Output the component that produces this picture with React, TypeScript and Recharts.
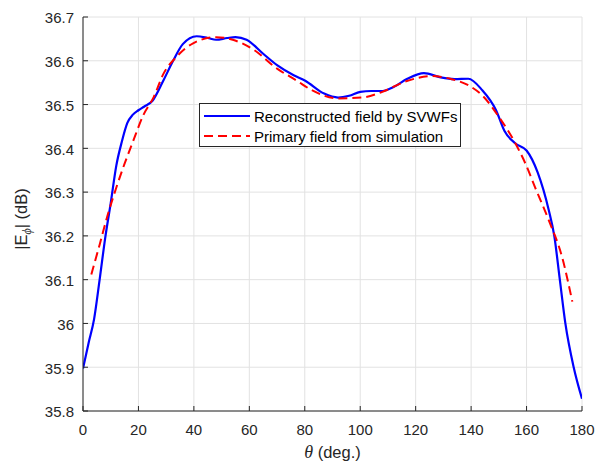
import { LineChart, Line, XAxis, YAxis, CartesianGrid, Legend, Label } from 'recharts';

// theta ticks (deg.) and |E_phi| ticks (dB)
const thetaTicks = [0, 20, 40, 60, 80, 100, 120, 140, 160, 180];
const dbTicks = [35.8, 35.9, 36, 36.1, 36.2, 36.3, 36.4, 36.5, 36.6, 36.7];

// reconstructed field by SVWFs
const thetaRec = [
  0, 2, 4, 6, 8, 10, 12, 14, 16, 18, 20, 22, 25, 29, 32.5, 36, 41, 45, 48, 52, 55, 59, 65, 70, 76,
  80, 87, 92, 96, 100, 104, 108, 112, 117, 123, 129, 134, 139, 144, 149, 152, 156, 160, 164, 168,
  170, 172, 174, 177, 180,
];
const fieldRec = [
  35.897, 35.955, 36.01, 36.1, 36.195, 36.275, 36.36, 36.415, 36.458, 36.477, 36.487, 36.495,
  36.508, 36.555, 36.6, 36.638, 36.656, 36.652, 36.648, 36.652, 36.654, 36.648, 36.616, 36.59,
  36.567, 36.555, 36.525, 36.516, 36.52, 36.529, 36.531, 36.531, 36.54, 36.559, 36.572, 36.562,
  36.558, 36.559, 36.533, 36.487, 36.44, 36.411, 36.395, 36.345, 36.259, 36.2, 36.1, 36.0, 35.9,
  35.828,
];

// primary field from simulation
const thetaSim = [
  3, 6, 9, 12, 15, 18, 21.7, 25.5, 29, 33.7, 39.7, 48, 54, 61.4, 70, 77, 82.5, 92, 100.6, 108,
  116, 126, 133, 139, 144, 150, 156, 159.6, 163, 168, 172.8, 176.5,
];
const fieldSim = [
  36.112, 36.18, 36.25, 36.31, 36.365, 36.415, 36.475, 36.517, 36.57, 36.609, 36.64, 36.654,
  36.648, 36.626, 36.582, 36.555, 36.533, 36.514, 36.516, 36.529, 36.552, 36.565, 36.558, 36.544,
  36.521, 36.472, 36.411, 36.365, 36.312, 36.236, 36.152, 36.05,
];

const seriesNames = ['Reconstructed field by SVWFs', 'Primary field from simulation'];

const recData = thetaRec.map((t, i) => ({ theta: t, value: fieldRec[i] }));
const simData = thetaSim.map((t, i) => ({ theta: t, value: fieldSim[i] }));

const FONT = '"Liberation Sans", Arial, Helvetica, sans-serif';
const TXT = '#262626';

const fmtDb = (v: number) => String(parseFloat(v.toFixed(1)));

const LegendBox = ({ payload }: any) => {
  const items = [...(payload || [])].sort(
    (a: any, b: any) => seriesNames.indexOf(a.value) - seriesNames.indexOf(b.value)
  );
  return (
    <div
      style={{
        border: '1px solid #262626',
        background: '#fff',
        width: 260,
        height: 42,
        boxSizing: 'content-box',
        fontFamily: FONT,
        fontSize: 15,
        color: '#000',
      }}
    >
      {items.map((p: any, i: number) => (
        <div key={i} style={{ display: 'flex', alignItems: 'center', height: 20, marginTop: i === 0 ? 2 : 0 }}>
          <svg width={54} height={20}>
            <line
              x1={4}
              x2={50}
              y1={10}
              y2={10}
              stroke={p.color}
              strokeWidth={2}
              strokeDasharray={p.payload.strokeDasharray}
            />
          </svg>
          <span>{p.value}</span>
        </div>
      ))}
    </div>
  );
};

const YLabel = ({ viewBox }: any) => {
  const cx = viewBox.x + 27;
  const cy = viewBox.y + viewBox.height / 2 + 5;
  return (
    <text
      transform={`translate(${cx},${cy}) rotate(-90)`}
      textAnchor="middle"
      fontFamily={FONT}
      fontSize={16.5}
      fill={TXT}
    >
      |E
      <tspan dy={4} fontSize={12} fontStyle="italic" fontFamily='"Liberation Serif", serif'>
        ϕ
      </tspan>
      <tspan dy={-4}>| (dB)</tspan>
    </text>
  );
};

const XLabel = ({ viewBox }: any) => (
  <text
    x={viewBox.x + viewBox.width / 2}
    y={viewBox.y + 47}
    textAnchor="middle"
    fontFamily={FONT}
    fontSize={16.5}
    fill={TXT}
  >
    <tspan fontStyle="italic" fontFamily='"Liberation Serif", serif' fontSize={18}>
      θ
    </tspan>
    <tspan> (deg.)</tspan>
  </text>
);

const App = () => {
  return (
    <div style={{ position: 'absolute', left: 0, top: 0, background: '#fff' }}>
      <LineChart
        width={595}
        height={467}
        margin={{ top: 17, right: 13, left: 0, bottom: 0 }}
        style={{ fontFamily: FONT }}
      >
        <CartesianGrid stroke="#e2e2e2" strokeWidth={1} />
        <XAxis
          type="number"
          dataKey="theta"
          domain={[0, 180]}
          ticks={thetaTicks}
          allowDataOverflow
          height={56}
          stroke={TXT}
          fontSize={15}
          tickSize={-5}
          tickMargin={18}
          tick={{ fill: TXT, fontSize: 15 }}
        >
          <Label content={<XLabel />} />
        </XAxis>
        <XAxis
          xAxisId="top"
          orientation="top"
          type="number"
          dataKey="theta"
          domain={[0, 180]}
          ticks={thetaTicks}
          allowDataOverflow
          height={0}
          stroke={TXT}
          tickSize={-5}
          tickFormatter={() => ''}
        />
        <YAxis
          type="number"
          domain={[35.8, 36.7]}
          ticks={dbTicks}
          allowDataOverflow
          width={83}
          stroke={TXT}
          fontSize={15}
          tickSize={-5}
          tickMargin={14}
          tickFormatter={fmtDb}
          tick={{ fill: TXT, fontSize: 15, dy: 1 }}
        >
          <Label content={<YLabel />} />
        </YAxis>
        <YAxis
          yAxisId="right"
          orientation="right"
          type="number"
          domain={[35.8, 36.7]}
          ticks={dbTicks}
          allowDataOverflow
          width={0}
          stroke={TXT}
          tickSize={-5}
          tickFormatter={() => ''}
        />
        <Legend
          layout="horizontal"
          verticalAlign="middle"
          align="center"
          wrapperStyle={{ left: 199, top: 103, width: 262, height: 44 }}
          content={<LegendBox />}
        />
        <Line
          data={recData}
          dataKey="value"
          name={seriesNames[0]}
          type="monotone"
          stroke="#0000ff"
          strokeWidth={2.2}
          dot={false}
          isAnimationActive={false}
        />
        <Line
          data={simData}
          dataKey="value"
          name={seriesNames[1]}
          type="monotone"
          stroke="#ff0000"
          strokeWidth={2}
          strokeDasharray="9 5"
          dot={false}
          isAnimationActive={false}
        />
      </LineChart>
    </div>
  );
};

export default App;
